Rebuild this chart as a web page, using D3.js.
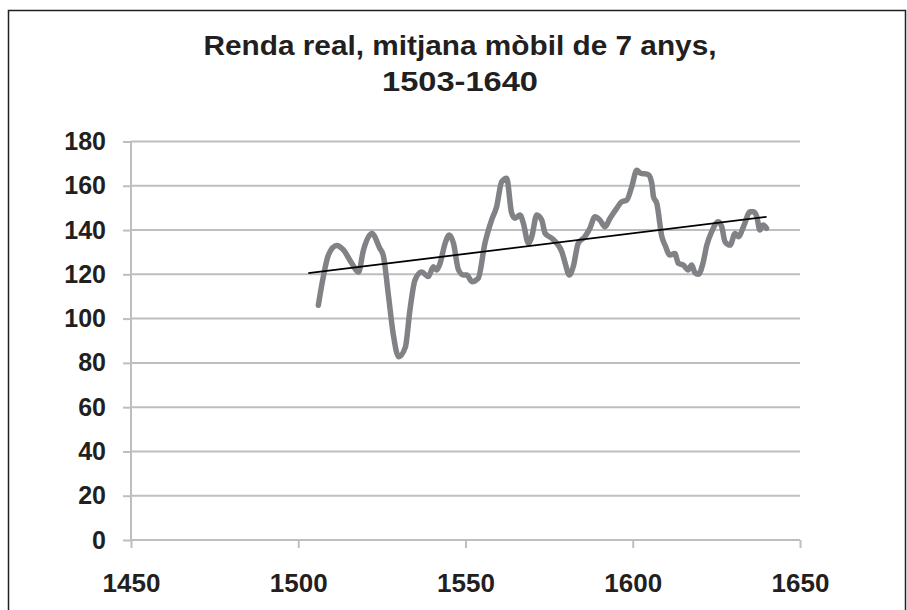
<!DOCTYPE html>
<html>
<head>
<meta charset="utf-8">
<script src="https://cdn.jsdelivr.net/npm/d3@7"></script>
<style>
  body { margin: 0; background: #fff; }
  text { font-family: "Liberation Sans", Arial, sans-serif; font-weight: bold; fill: #231f20; }
</style>
</head>
<body>
<svg id="chart" width="907" height="610"></svg>
<script>
// Moving average (7 years)
var years = [1506, 1507.5, 1509, 1511.5, 1513.5, 1516, 1518, 1519.5, 1522, 1524.4, 1525.4, 1527, 1528.4,
  1530, 1532, 1533.4, 1534.9, 1536.9, 1538.9, 1540.4, 1541.4, 1542.4, 1543.9, 1545.2, 1546.4, 1547.9,
  1549.4, 1550.4, 1551.9, 1553.8, 1555.8, 1557.8, 1559.3, 1560.8, 1562.3, 1563.8, 1564.8, 1566.3, 1567.3,
  1568.8, 1569.8, 1571.3, 1572.8, 1573.8, 1575.8, 1577.3, 1578.8, 1579.8, 1581, 1582.2, 1583.7, 1585.7,
  1587.2, 1588.7, 1590.2, 1591.7, 1593.2, 1595.2, 1596.7, 1598.2, 1599.7, 1601.2, 1602.2, 1604.7, 1605.7,
  1606.2, 1607.2, 1608.7, 1609.7, 1611.1, 1612.6, 1613.6, 1615.1, 1616.6, 1617.6, 1618.6, 1619.6, 1621.1,
  1622.1, 1623.6, 1625.6, 1626.6, 1627.6, 1629.1, 1630.6, 1631.6, 1633.1, 1635.1, 1636.1, 1637.1, 1638,
  1639, 1640];
var values = [106, 119, 128.7, 133, 131, 125, 121, 131, 138.5, 131.7, 128.7, 110, 93,
  82.8, 87, 104, 117.4, 121, 119, 123.4, 122, 125, 134, 137.8, 134, 122,
  119.7, 119.7, 116.7, 118.2, 134, 144.5, 150.5, 161.8, 163.4, 147.6, 145.3, 146.8, 143,
  134, 137, 146.8, 144.5, 138.5, 136.3, 134, 130.2, 125, 119.7, 123.4, 134, 137,
  140.8, 146, 144.5, 141.5, 145.3, 149.8, 152.8, 153.5, 159.6, 167, 165.8, 165, 161,
  155, 152, 137, 133, 128.7, 129.4, 125, 124.2, 122, 124.2, 120.7, 120, 125.7,
  133, 139.3, 143.8, 141.5, 134.7, 133.2, 138.5, 137, 141.5, 148.3, 148.3, 146, 140,
  142.3, 140.8];

// linear trend endpoints
var trendYears = [1503, 1640];
var trendValues = [120.5, 146];

var xTicks = [1450, 1500, 1550, 1600, 1650];
var yTicks = [0, 20, 40, 60, 80, 100, 120, 140, 160, 180];
var titleLines = ["Renda real, mitjana mòbil de 7 anys,", "1503-1640"];

var svg = d3.select("#chart");

// outer frame
svg.append("rect")
    .attr("x", 8.5).attr("y", 10.5)
    .attr("width", 897).attr("height", 610)
    .attr("fill", "none").attr("stroke", "#231f20").attr("stroke-width", 1.5);

var x = d3.scaleLinear().domain([1450, 1650]).range([131, 800]);
var y = d3.scaleLinear().domain([0, 180]).range([540, 141.5]);

// gridlines
svg.append("g")
    .selectAll("line")
    .data(yTicks.filter(function(d) { return d > 0; }))
    .enter().append("line")
        .attr("x1", x(1450)).attr("x2", x(1650))
        .attr("y1", function(d) { return y(d); })
        .attr("y2", function(d) { return y(d); })
        .attr("stroke", "#bcbec0").attr("stroke-width", 2);

// y axis
var yAxis = d3.axisLeft(y).tickValues(yTicks).tickSize(8).tickPadding(17);
var gy = svg.append("g").attr("transform", "translate(" + x(1450) + ",0)").call(yAxis);

// x axis
var xAxis = d3.axisBottom(x).tickValues(xTicks).tickFormat(d3.format("d")).tickSize(8).tickPadding(26);
var gx = svg.append("g").attr("transform", "translate(0," + y(0) + ")").call(xAxis);

[gx, gy].forEach(function(g) {
    g.selectAll(".domain").attr("stroke", "#bcbec0").attr("stroke-width", 2);
    g.selectAll(".tick line").attr("stroke", "#bcbec0").attr("stroke-width", 2);
    g.selectAll(".tick text").attr("fill", "#231f20")
        .style("font-family", "'Liberation Sans', Arial, sans-serif").style("font-weight", "bold");
});
gy.selectAll(".tick text").attr("font-size", 25);
gx.selectAll(".tick text").attr("font-size", 26);
gx.select(".domain").attr("d", "M" + x(1450) + ",0H" + x(1650));
gy.select(".domain").attr("d", "M0," + y(0) + "V" + y(180));

// data line
var line = d3.line()
    .x(function(d, i) { return x(years[i]); })
    .y(function(d) { return y(d); })
    .curve(d3.curveMonotoneX);

svg.append("path")
    .datum(values)
    .attr("d", line)
    .attr("fill", "none")
    .attr("stroke", "#808285")
    .attr("stroke-width", 5.5)
    .attr("stroke-linejoin", "round")
    .attr("stroke-linecap", "round");

// trend line
svg.append("line")
    .attr("x1", x(trendYears[0])).attr("y1", y(trendValues[0]))
    .attr("x2", x(trendYears[1])).attr("y2", y(trendValues[1]))
    .attr("stroke", "#000").attr("stroke-width", 1.8);

// title
var titleWidths = [513, 156];
svg.append("g").selectAll("text")
    .data(titleLines)
    .enter().append("text")
        .attr("x", 460)
        .attr("y", function(d, i) { return 55 + i * 36; })
        .attr("text-anchor", "middle")
        .attr("font-size", 27)
        .attr("textLength", function(d, i) { return titleWidths[i]; })
        .attr("lengthAdjust", "spacingAndGlyphs")
        .text(function(d) { return d; });
</script>
</body>
</html>
